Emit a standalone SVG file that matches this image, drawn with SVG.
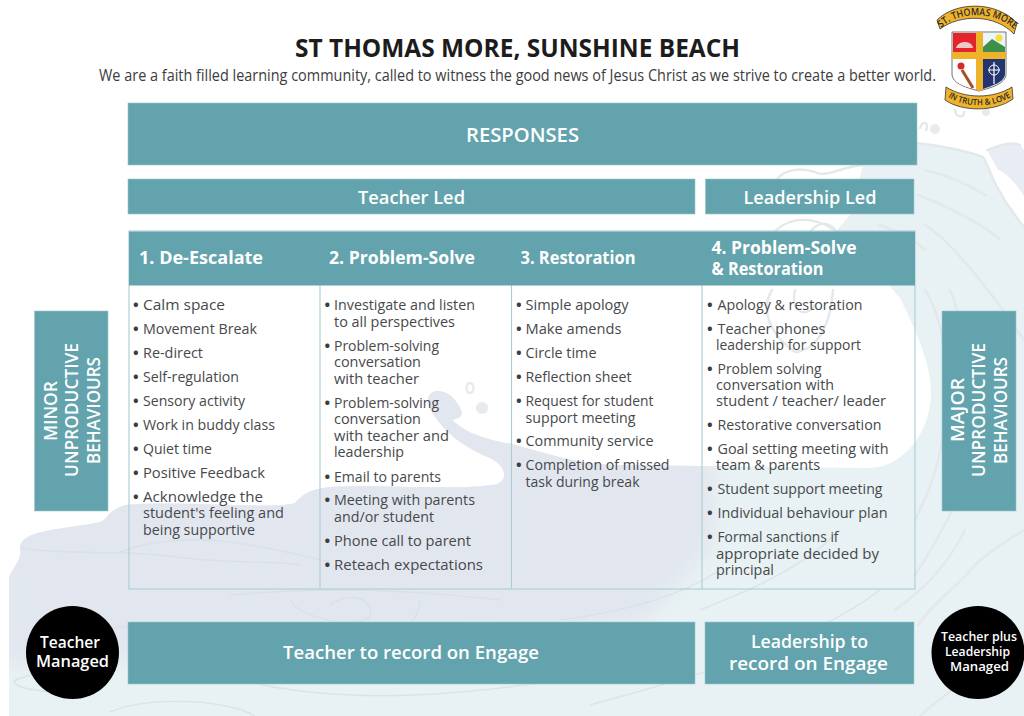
<svg xmlns="http://www.w3.org/2000/svg" width="1024" height="716" viewBox="0 0 1024 716">
<style>
text{font-family:"Open Sans","Noto Sans","Liberation Sans",sans-serif}
.t{fill:#63a3ad;stroke:#9cc6cc;stroke-width:.6}
.h{fill:#fff;font-weight:700;font-size:17.5px}
.b{fill:#46494b;font-size:14.5px}
.d{fill:#3a3d3f;font-size:15px;font-weight:700}
.w{fill:#fff;font-weight:600}
.f{fill:none;stroke:#e3e8ea;stroke-width:2.4;stroke-linecap:round}
.g{fill:none;stroke:#d6dde2;stroke-width:1.4;opacity:.7}
.l{stroke:#a9cdd3;stroke-width:1.1;fill:none}
</style>
<defs>
<clipPath id="wv"><path d="M917,143C940,146 965,150 983,157C988,165 992,178 997,187C1003,198 1012,212 1024,227L1024,716L9,716L9,577C14,565 22,560 20,548C20,530 60,530 100,522C108,520 105,512 125,505C180,500 270,510 295,503C310,485 330,487 360,486C400,486 470,490 497,484C510,478 504,465 490,458C470,450 445,435 432,412C425,400 428,392 437,391C450,390 460,405 462,412C462,420 452,418 453,421C462,428 470,433 477,435C490,440 500,442 512,444C545,453 580,465 620,465L870,468C900,468 931,435 931,393C931,365 918,335 900,298L887,283L836,231L850,215L863,165Z"/></clipPath>
<filter id="bl" x="-10%" y="-10%" width="120%" height="130%"><feGaussianBlur stdDeviation="9"/></filter>
<filter id="bs" x="-20%" y="-20%" width="140%" height="140%"><feGaussianBlur stdDeviation="3"/></filter>
<path id="arcTop" d="M941,28C958,11 994,10 1015,30"/>
<path id="arcBot" d="M948,97C965,108 993,108 1011,97"/>
</defs>
<rect width="1024" height="716" fill="#fff"/>
<g id="background">
<path d="M987,150C1000,145 1012,141 1020,145L1024,150L1024,196C1015,182 1005,172 998,170Z" fill="#e8ecf4"/>
<path d="M917,143C940,146 965,150 983,157C988,165 992,178 997,187C1003,198 1012,212 1024,227L1024,716L9,716L9,577C14,565 22,560 20,548C20,530 60,530 100,522C108,520 105,512 125,505C180,500 270,510 295,503C310,485 330,487 360,486C400,486 470,490 497,484C510,478 504,465 490,458C470,450 445,435 432,412C425,400 428,392 437,391C450,390 460,405 462,412C462,420 452,418 453,421C462,428 470,433 477,435C490,440 500,442 512,444C545,453 580,465 620,465L870,468C900,468 931,435 931,393C931,365 918,335 900,298L887,283L836,231L850,215L863,165Z" fill="#e8f1f3"/>
<g clip-path="url(#wv)">
<path d="M0,375L510,375L712,430L712,545L640,625L300,650L0,665Z" fill="#e2e7ef" filter="url(#bl)"/>
</g>
<path class="g" d="M20,548C60,555 120,550 170,556C230,565 280,560 300,565M120,552C180,530 240,540 330,562M25,640C60,630 100,630 130,626M15,680C40,670 80,670 105,675C100,690 60,695 35,690C20,688 12,684 15,680ZM110,712C150,695 230,700 255,716M240,680C340,705 470,700 640,665M330,605C350,590 375,600 370,615C365,630 300,620 290,600M230,595C290,590 370,585 500,600M420,600C420,610 410,640 375,640M700,610C750,590 800,570 840,530M590,705C680,680 800,650 880,590M560,620C640,610 690,590 720,570"/>
<path class="f" d="M925,170C945,175 965,182 985,195M918,195C945,205 985,225 1000,240M925,225C950,240 990,290 1024,340M925,290C945,320 950,380 945,420C940,470 925,500 915,520M950,290C975,350 975,430 960,490C950,520 925,560 915,575M1024,530C1000,545 985,555 975,565C960,585 935,600 918,625M895,610C930,585 950,560 965,530M920,716C960,680 1000,660 1024,640M880,225C900,232 915,240 925,250"/>
<path class="f" d="M917,143C940,146 965,150 983,157C988,165 992,178 997,187C1003,198 1012,212 1024,227M987,150C1000,145 1012,141 1020,145"/>
<path class="f" d="M778,178C785,170 800,167 815,172C825,178 838,168 862,165M775,231C790,218 810,214 836,231M772,290C760,310 770,335 795,352C815,350 830,330 833,290M795,290C790,310 805,320 815,305M810,232C818,222 828,220 836,231"/>
<circle cx="935" cy="129" r="5" fill="#e8ebec"/><circle cx="986" cy="112" r="4" fill="#e8ebec"/>
<path class="f" d="M920,128C922,120 930,122 926,130M955,110C955,118 965,118 964,112"/>
<circle cx="482" cy="408" r="6" fill="#e7ebee"/>
<ellipse cx="470" cy="388" rx="3.500" ry="5" fill="none" stroke="#e7ebee" stroke-width="2.500"/>
</g>

<g id="title"><text x="295" y="57" textLength="445" lengthAdjust="spacingAndGlyphs" font-size="25" font-weight="700" fill="#1c1c1c">ST THOMAS MORE, SUNSHINE BEACH</text>
<text x="99" y="81" textLength="837" lengthAdjust="spacingAndGlyphs" font-size="15.5" fill="#3c3c3c">We are a faith filled learning community, called to witness the good news of Jesus Christ as we strive to create a better world.</text></g>

<g id="logo">
<path d="M952,32H1006V74C1006,84 990,88 979,91C968,88 952,84 952,74Z" fill="#fff" stroke="#333" stroke-width=".7"/>
<rect x="953" y="33" width="23" height="19" fill="#e3242b"/>
<path d="M956,48C958,40 972,40 973,48Z" fill="#f3c6c6"/>
<path d="M983,33H1005V52H983Z" fill="#eaf5f7"/><path d="M983,47L992,39L1005,47V52H983Z" fill="#3f8e4a"/><circle cx="999" cy="38" r="3.500" fill="#f5e03a"/>
<path d="M983,59H1005V74C1005,82 992,86 983,89Z" fill="#24346f"/>
<path d="M953,59H976V89C965,87 953,83 953,74Z" fill="#fff"/>
<path d="M962,70L973,88" stroke="#a5502a" stroke-width="3"/><circle cx="961" cy="66" r="3.500" fill="#d32a2a"/>
<circle cx="994" cy="70" r="5" fill="none" stroke="#fff" stroke-width="1"/><path d="M994,62V84M988,70H1000" stroke="#fff" stroke-width="1.200"/>
<path d="M976,32H983V90L979,91L976,90ZM952,52H1006V59H952Z" fill="#eeb32b"/>
<path d="M937,20C955,2 995,0 1017,23L1014,34C995,14 960,14 940,29Z" fill="#eeb32b" stroke="#333" stroke-width=".8"/>
<path d="M946,87C965,99 993,99 1012,87L1013,99C995,112 962,112 945,100Z" fill="#eeb32b" stroke="#333" stroke-width=".8"/>
<text font-size="10" font-weight="600" fill="#2a2a2a"><textPath href="#arcTop" textLength="80" lengthAdjust="spacingAndGlyphs">ST. THOMAS MORE</textPath></text>
<text font-size="8.500" font-weight="600" fill="#2a2a2a"><textPath href="#arcBot" textLength="66" lengthAdjust="spacingAndGlyphs">IN TRUTH &amp; LOVE</textPath></text>
</g>

<g id="responses"><rect class="t" x="128" y="103" width="789" height="62"/><text class="w" x="466" y="142" textLength="113" lengthAdjust="spacingAndGlyphs" font-size="20">RESPONSES</text></g>
<g id="teacher-led"><rect class="t" x="128" y="179" width="567" height="35"/><text class="w" x="358" y="204" textLength="107" lengthAdjust="spacingAndGlyphs" font-size="18">Teacher Led</text></g>
<g id="leadership-led"><rect class="t" x="705.500" y="179" width="208.500" height="35"/><text class="w" x="743.500" y="204" textLength="133" lengthAdjust="spacingAndGlyphs" font-size="18">Leadership Led</text></g>

<g id="table">
<rect x="129" y="231" width="786" height="358" class="l"/>
<path class="l" d="M320,285V589M511.500,285V589M702,285V589"/>
<rect x="129" y="231.500" width="786" height="54" fill="#63a3ad"/>
</g>

<g id="col1">
<text class="h" x="139" y="264" textLength="124" lengthAdjust="spacingAndGlyphs">1. De-Escalate</text>
<g id="col1-items">
<text class="d" x="133" y="310">•</text><text class="b" x="143" y="310" textLength="82" lengthAdjust="spacingAndGlyphs">Calm space</text>
<text class="d" x="133" y="334">•</text><text class="b" x="143" y="334" textLength="114" lengthAdjust="spacingAndGlyphs">Movement Break</text>
<text class="d" x="133" y="358">•</text><text class="b" x="143" y="358" textLength="60" lengthAdjust="spacingAndGlyphs">Re-direct</text>
<text class="d" x="133" y="382">•</text><text class="b" x="143" y="382" textLength="96" lengthAdjust="spacingAndGlyphs">Self-regulation</text>
<text class="d" x="133" y="406">•</text><text class="b" x="143" y="406" textLength="102" lengthAdjust="spacingAndGlyphs">Sensory activity</text>
<text class="d" x="133" y="430">•</text><text class="b" x="143" y="430" textLength="132" lengthAdjust="spacingAndGlyphs">Work in buddy class</text>
<text class="d" x="133" y="454">•</text><text class="b" x="143" y="454" textLength="69" lengthAdjust="spacingAndGlyphs">Quiet time</text>
<text class="d" x="133" y="478">•</text><text class="b" x="143" y="478" textLength="122" lengthAdjust="spacingAndGlyphs">Positive Feedback</text>
<text class="d" x="133" y="502">•</text><text class="b" x="143" y="502" textLength="120" lengthAdjust="spacingAndGlyphs">Acknowledge the</text>
<text class="b" x="143" y="518" textLength="141" lengthAdjust="spacingAndGlyphs">student's feeling and</text>
<text class="b" x="143" y="535" textLength="112" lengthAdjust="spacingAndGlyphs">being supportive</text>
</g></g>

<g id="col2">
<text class="h" x="329" y="264" textLength="146" lengthAdjust="spacingAndGlyphs">2. Problem-Solve</text>
<g id="col2-items">
<text class="d" x="324.500" y="310">•</text><text class="b" x="334" y="310" textLength="141" lengthAdjust="spacingAndGlyphs">Investigate and listen</text>
<text class="b" x="334" y="327" textLength="121" lengthAdjust="spacingAndGlyphs">to all perspectives</text>
<text class="d" x="324.500" y="351">•</text><text class="b" x="334" y="351" textLength="105" lengthAdjust="spacingAndGlyphs">Problem-solving</text>
<text class="b" x="334" y="367" textLength="87" lengthAdjust="spacingAndGlyphs">conversation</text>
<text class="b" x="334" y="384" textLength="85" lengthAdjust="spacingAndGlyphs">with teacher</text>
<text class="d" x="324.500" y="408">•</text><text class="b" x="334" y="408" textLength="105" lengthAdjust="spacingAndGlyphs">Problem-solving</text>
<text class="b" x="334" y="424" textLength="87" lengthAdjust="spacingAndGlyphs">conversation</text>
<text class="b" x="334" y="441" textLength="115" lengthAdjust="spacingAndGlyphs">with teacher and</text>
<text class="b" x="334" y="457" textLength="70" lengthAdjust="spacingAndGlyphs">leadership</text>
<text class="d" x="324.500" y="482">•</text><text class="b" x="334" y="482" textLength="107" lengthAdjust="spacingAndGlyphs">Email to parents</text>
<text class="d" x="324.500" y="505">•</text><text class="b" x="334" y="505" textLength="141" lengthAdjust="spacingAndGlyphs">Meeting with parents</text>
<text class="b" x="334" y="522" textLength="100" lengthAdjust="spacingAndGlyphs">and/or student</text>
<text class="d" x="324.500" y="546">•</text><text class="b" x="334" y="546" textLength="137" lengthAdjust="spacingAndGlyphs">Phone call to parent</text>
<text class="d" x="324.500" y="570">•</text><text class="b" x="334" y="570" textLength="149" lengthAdjust="spacingAndGlyphs">Reteach expectations</text>
</g></g>

<g id="col3">
<text class="h" x="520.500" y="264" textLength="115" lengthAdjust="spacingAndGlyphs">3. Restoration</text>
<g id="col3-items">
<text class="d" x="516" y="310">•</text><text class="b" x="525.500" y="310" textLength="103" lengthAdjust="spacingAndGlyphs">Simple apology</text>
<text class="d" x="516" y="334">•</text><text class="b" x="525.500" y="334" textLength="96" lengthAdjust="spacingAndGlyphs">Make amends</text>
<text class="d" x="516" y="358">•</text><text class="b" x="525.500" y="358" textLength="71" lengthAdjust="spacingAndGlyphs">Circle time</text>
<text class="d" x="516" y="382">•</text><text class="b" x="525.500" y="382" textLength="106" lengthAdjust="spacingAndGlyphs">Reflection sheet</text>
<text class="d" x="516" y="406">•</text><text class="b" x="525.500" y="406" textLength="128" lengthAdjust="spacingAndGlyphs">Request for student</text>
<text class="b" x="525.500" y="423" textLength="110" lengthAdjust="spacingAndGlyphs">support meeting</text>
<text class="d" x="516" y="446">•</text><text class="b" x="525.500" y="446" textLength="128" lengthAdjust="spacingAndGlyphs">Community service</text>
<text class="d" x="516" y="470">•</text><text class="b" x="525.500" y="470" textLength="144" lengthAdjust="spacingAndGlyphs">Completion of missed</text>
<text class="b" x="525.500" y="487" textLength="114" lengthAdjust="spacingAndGlyphs">task during break</text>
</g></g>

<g id="col4">
<text class="h" x="711.500" y="254" textLength="145" lengthAdjust="spacingAndGlyphs">4. Problem-Solve</text>
<text class="h" x="711.500" y="275" textLength="112" lengthAdjust="spacingAndGlyphs">&amp; Restoration</text>
<g id="col4-items">
<text class="d" x="707" y="310">•</text><text class="b" x="717.500" y="310" textLength="145" lengthAdjust="spacingAndGlyphs">Apology &amp; restoration</text>
<text class="d" x="707" y="334">•</text><text class="b" x="717.500" y="334" textLength="108" lengthAdjust="spacingAndGlyphs">Teacher phones</text>
<text class="b" x="716" y="350" textLength="145" lengthAdjust="spacingAndGlyphs">leadership for support</text>
<text class="d" x="707" y="374">•</text><text class="b" x="717.500" y="374" textLength="104" lengthAdjust="spacingAndGlyphs">Problem solving</text>
<text class="b" x="716" y="390" textLength="118" lengthAdjust="spacingAndGlyphs">conversation with</text>
<text class="b" x="716" y="406" textLength="170" lengthAdjust="spacingAndGlyphs">student / teacher/ leader</text>
<text class="d" x="707" y="430">•</text><text class="b" x="717.500" y="430" textLength="164" lengthAdjust="spacingAndGlyphs">Restorative conversation</text>
<text class="d" x="707" y="454">•</text><text class="b" x="717.500" y="454" textLength="171" lengthAdjust="spacingAndGlyphs">Goal setting meeting with</text>
<text class="b" x="716" y="470" textLength="104" lengthAdjust="spacingAndGlyphs">team &amp; parents</text>
<text class="d" x="707" y="494">•</text><text class="b" x="717.500" y="494" textLength="165" lengthAdjust="spacingAndGlyphs">Student support meeting</text>
<text class="d" x="707" y="518">•</text><text class="b" x="717.500" y="518" textLength="170" lengthAdjust="spacingAndGlyphs">Individual behaviour plan</text>
<text class="d" x="707" y="542">•</text><text class="b" x="717.500" y="542" textLength="121" lengthAdjust="spacingAndGlyphs">Formal sanctions if</text>
<text class="b" x="716" y="559" textLength="163" lengthAdjust="spacingAndGlyphs">appropriate decided by</text>
<text class="b" x="716" y="575" textLength="58" lengthAdjust="spacingAndGlyphs">principal</text>
</g></g>

<g id="minor"><rect class="t" x="34.500" y="311" width="73.500" height="200"/>
<g font-size="18">
<text class="w" transform="translate(57,441) rotate(-90)" textLength="60" lengthAdjust="spacingAndGlyphs">MINOR</text>
<text class="w" transform="translate(78,477) rotate(-90)" textLength="134" lengthAdjust="spacingAndGlyphs">UNPRODUCTIVE</text>
<text class="w" transform="translate(100,464) rotate(-90)" textLength="107" lengthAdjust="spacingAndGlyphs">BEHAVIOURS</text></g></g>
<g id="major"><rect class="t" x="942" y="311" width="74" height="200"/>
<g font-size="18">
<text class="w" transform="translate(964,442) rotate(-90)" textLength="64" lengthAdjust="spacingAndGlyphs">MAJOR</text>
<text class="w" transform="translate(985,477) rotate(-90)" textLength="134" lengthAdjust="spacingAndGlyphs">UNPRODUCTIVE</text>
<text class="w" transform="translate(1007,464) rotate(-90)" textLength="107" lengthAdjust="spacingAndGlyphs">BEHAVIOURS</text></g></g>

<g id="teacher-record"><rect class="t" x="128" y="622" width="567" height="62"/><text class="w" x="283" y="659" textLength="256" lengthAdjust="spacingAndGlyphs" font-size="18">Teacher to record on Engage</text></g>
<g id="leader-record"><rect class="t" x="705" y="622" width="209" height="62"/>
<text class="w" x="751" y="648" textLength="117" lengthAdjust="spacingAndGlyphs" font-size="18">Leadership to</text>
<text class="w" x="729" y="670" textLength="159" lengthAdjust="spacingAndGlyphs" font-size="18">record on Engage</text></g>

<g id="teacher-managed"><circle cx="72.500" cy="652.500" r="46.500" fill="#000"/>
<text class="w" x="40" y="648" textLength="60" lengthAdjust="spacingAndGlyphs" font-size="15.500">Teacher</text>
<text class="w" x="36" y="667" textLength="73" lengthAdjust="spacingAndGlyphs" font-size="15.500">Managed</text></g>
<g id="leadership-managed"><circle cx="978" cy="652.500" r="46.500" fill="#000"/>
<text class="w" x="941" y="641" textLength="76" lengthAdjust="spacingAndGlyphs" font-size="12.500">Teacher plus</text>
<text class="w" x="945" y="656" textLength="65" lengthAdjust="spacingAndGlyphs" font-size="12.500">Leadership</text>
<text class="w" x="950" y="671" textLength="59" lengthAdjust="spacingAndGlyphs" font-size="12.500">Managed</text></g>
</svg>
